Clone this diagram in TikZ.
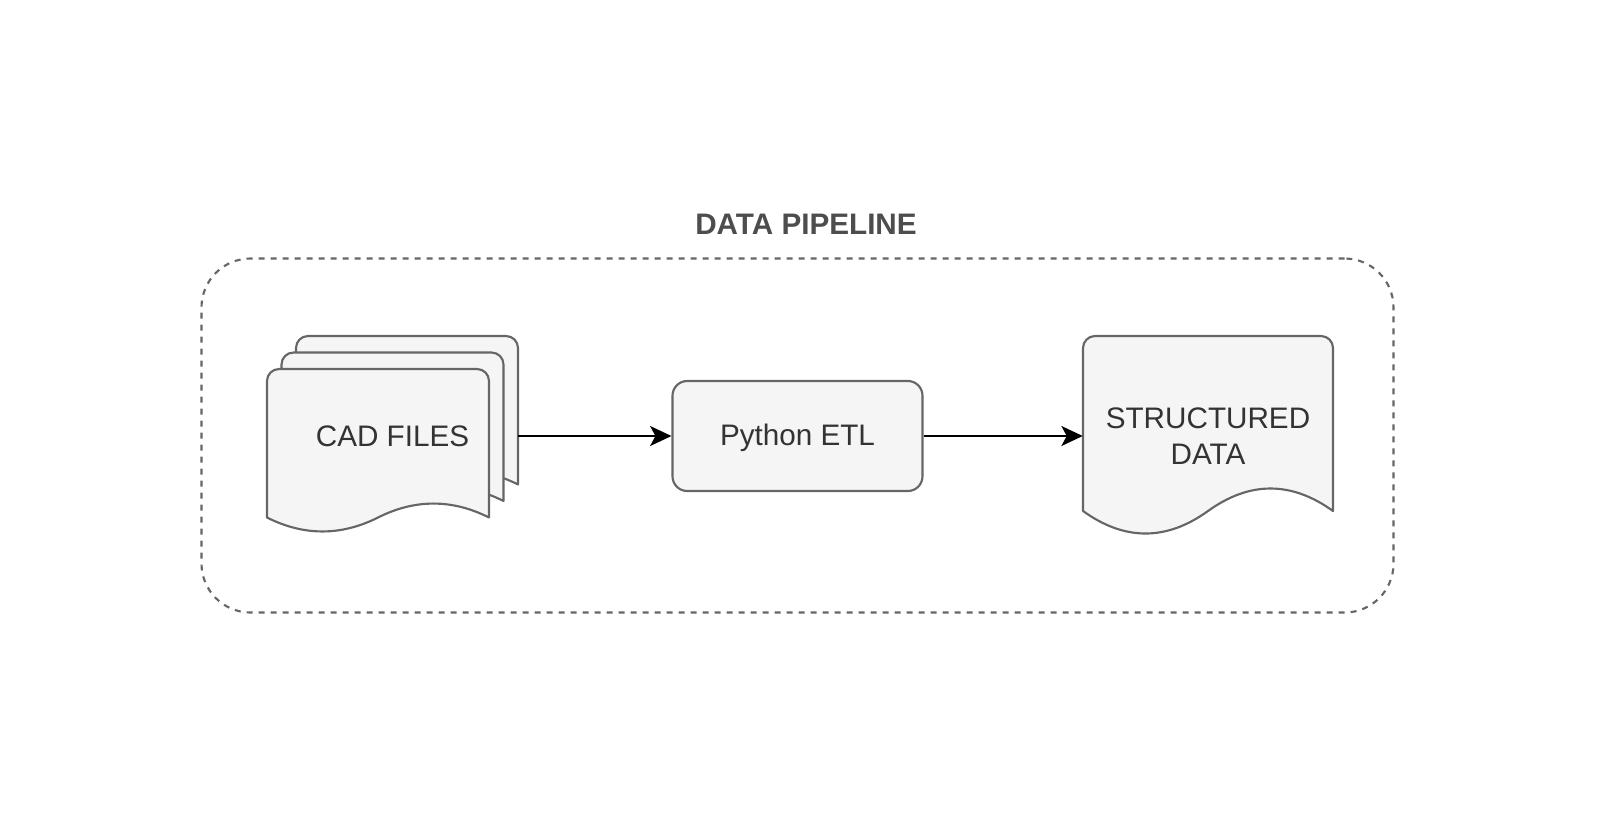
\documentclass[tikz,border=0pt]{standalone}
\usepackage{fontspec}
\setmainfont{Liberation Sans}
\usetikzlibrary{arrows.meta}
\definecolor{strokegray}{HTML}{666666}
\definecolor{fillgray}{HTML}{F5F5F5}
\definecolor{textgray}{HTML}{333333}
\definecolor{titlegray}{HTML}{4D4D4D}
\newcommand{\docpath}[6]{% x y w h dy r
  \pgfmathsetmacro{\dx}{#1}\pgfmathsetmacro{\dyy}{#2}%
  \pgfmathsetmacro{\dw}{#3}\pgfmathsetmacro{\dh}{#4}\pgfmathsetmacro{\dd}{#5}%
  \pgfmathsetmacro{\yb}{\dyy+\dh-\dd/2}%
  \pgfmathsetmacro{\yu}{\yb-0.6*\dd}\pgfmathsetmacro{\yl}{\yb+0.6*\dd}%
  \draw[docline] (\dx,\yb) [rounded corners=#6] -- (\dx,\dyy) -- (\dx+\dw,\dyy) [sharp corners] -- (\dx+\dw,\yb)
    .. controls (\dx+\dw*5/6,\yu) and (\dx+\dw*2/3,\yu) .. (\dx+\dw/2,\yb)
    .. controls (\dx+\dw/3,\yl) and (\dx+\dw/6,\yl) .. (\dx,\yb) -- cycle;}
\tikzset{
  docline/.style={draw=strokegray, fill=fillgray, line width=1.6pt, line join=round},
  lbl/.style={text=textgray, font=\fontsize{22.25pt}{27pt}\selectfont, inner sep=0pt, align=center},
  flow/.style={draw=black, line width=1.6pt, -{Stealth[length=16pt,width=15pt,inset=4pt]}},
}
\begin{document}
\begin{tikzpicture}[x=0.75pt,y=-0.75pt]
\useasboundingbox (0,0) rectangle (1598,815);
% container
\node[draw=strokegray, line width=1.6pt, dash pattern=on 4.5pt off 4.5pt, rounded corners=36.75pt,
  minimum width=894pt, minimum height=265.5pt, inner sep=0pt] (group) at (797.5,435.5) {};
\node[text=titlegray, font=\fontsize{22.25pt}{26pt}\selectfont\bfseries, inner sep=0pt] (title) at (806,224) {DATA PIPELINE};
% CAD files (multi-document)
\docpath{296}{336}{222}{164}{31}{9pt}
\docpath{281.5}{352.5}{222}{164}{31}{9pt}
\docpath{267}{369}{222}{164}{31}{9pt}
\node[lbl, minimum width=188.25pt, minimum height=10pt] (cad) at (392.5,436) {CAD FILES};
% Python ETL
\node[draw=strokegray, fill=fillgray, line width=1.6pt, rounded corners=11pt,
  minimum width=187.5pt, minimum height=82.5pt, inner sep=0pt] (etl) at (797.5,436) {};
\node[lbl] (etltext) at (797.5,438) {Python ETL};
% Structured data
\docpath{1083}{336}{250}{200}{50}{9pt}
\node[lbl, minimum width=187.5pt, minimum height=10pt] (sd) at (1208,436) {STRUCTURED\\DATA};
% connectors
\draw[flow] (cad.east) -- (etl.west);
\draw[flow] (etl.east) -- (sd.west);
\end{tikzpicture}
\end{document}
